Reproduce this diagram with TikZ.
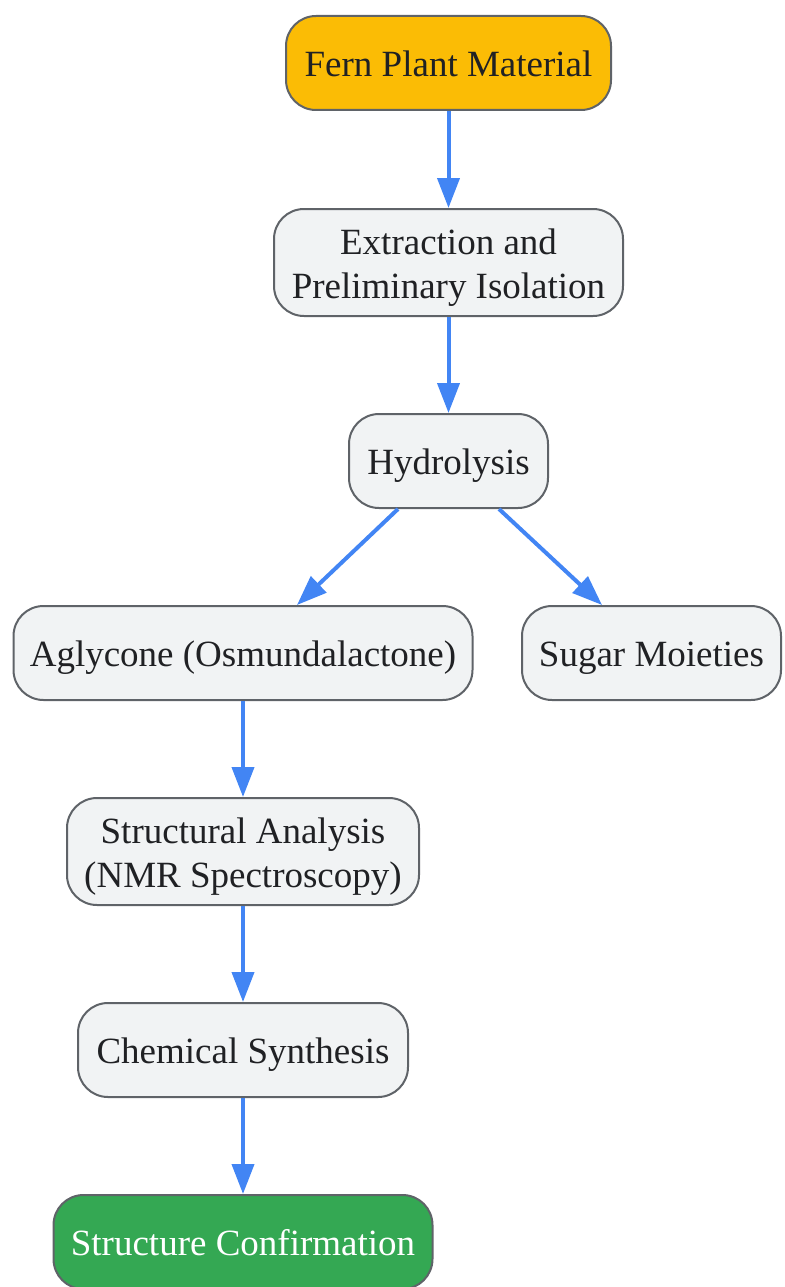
\documentclass[tikz,border=0pt]{standalone}
\usepackage{fontspec}
\setmainfont{Liberation Serif}
\usetikzlibrary{arrows.meta}
\definecolor{boxfill}{HTML}{F1F3F4}
\definecolor{boxline}{HTML}{5F6368}
\definecolor{txt}{HTML}{202124}
\definecolor{orng}{HTML}{FBBC05}
\definecolor{grn}{HTML}{34A853}
\definecolor{arr}{HTML}{4285F4}
\tikzset{
  box/.style={draw=boxline, line width=2pt, fill=boxfill, rounded corners=30pt,
    text=txt, align=center, inner sep=0pt, minimum height=94pt,
    font=\fontsize{37}{44}\selectfont,
    execute at begin node={\rule{0pt}{35pt}},
    execute at end node={\rule[-7.6pt]{0pt}{7.6pt}}},
  twoline/.style={box, minimum height=107pt, execute at begin node={\rule{0pt}{79pt}}},
  flow/.style={draw=arr, line width=4pt, -{Triangle[length=30pt,width=22pt]}}
}
\begin{document}
\begin{tikzpicture}[x=1pt,y=-1pt]
\useasboundingbox (0,0) rectangle (784,1287);
\node[box, fill=orng, minimum width=325pt] (fern) at (448.5,63) {Fern Plant Material};
\node[twoline, minimum width=349pt] (ext) at (448.5,262.5) {Extraction and\\Preliminary Isolation};
\node[box, minimum width=199pt] (hyd) at (448.5,461) {Hydrolysis};
\node[box, minimum width=459pt] (agl) at (243,653) {Aglycone (Osmundalactone)};
\node[box, minimum width=259pt] (sug) at (651.5,653) {Sugar Moieties};
\node[twoline, minimum width=352pt] (nmr) at (243,851.5) {Structural Analysis\\(NMR Spectroscopy)};
\node[box, minimum width=330pt] (syn) at (243,1050) {Chemical Synthesis};
\node[box, fill=grn, text=white, minimum width=379pt] (conf) at (243,1242) {Structure Confirmation};
\draw[flow] (fern) -- (ext);
\draw[flow] (ext) -- (hyd);
\draw[flow] ([xshift=-50.5pt]hyd.south) -- ([xshift=54pt]agl.north);
\draw[flow] ([xshift=50.5pt]hyd.south) -- ([xshift=-49.5pt]sug.north);
\draw[flow] (agl) -- (nmr);
\draw[flow] (nmr) -- (syn);
\draw[flow] (syn) -- (conf);
\end{tikzpicture}
\end{document}
